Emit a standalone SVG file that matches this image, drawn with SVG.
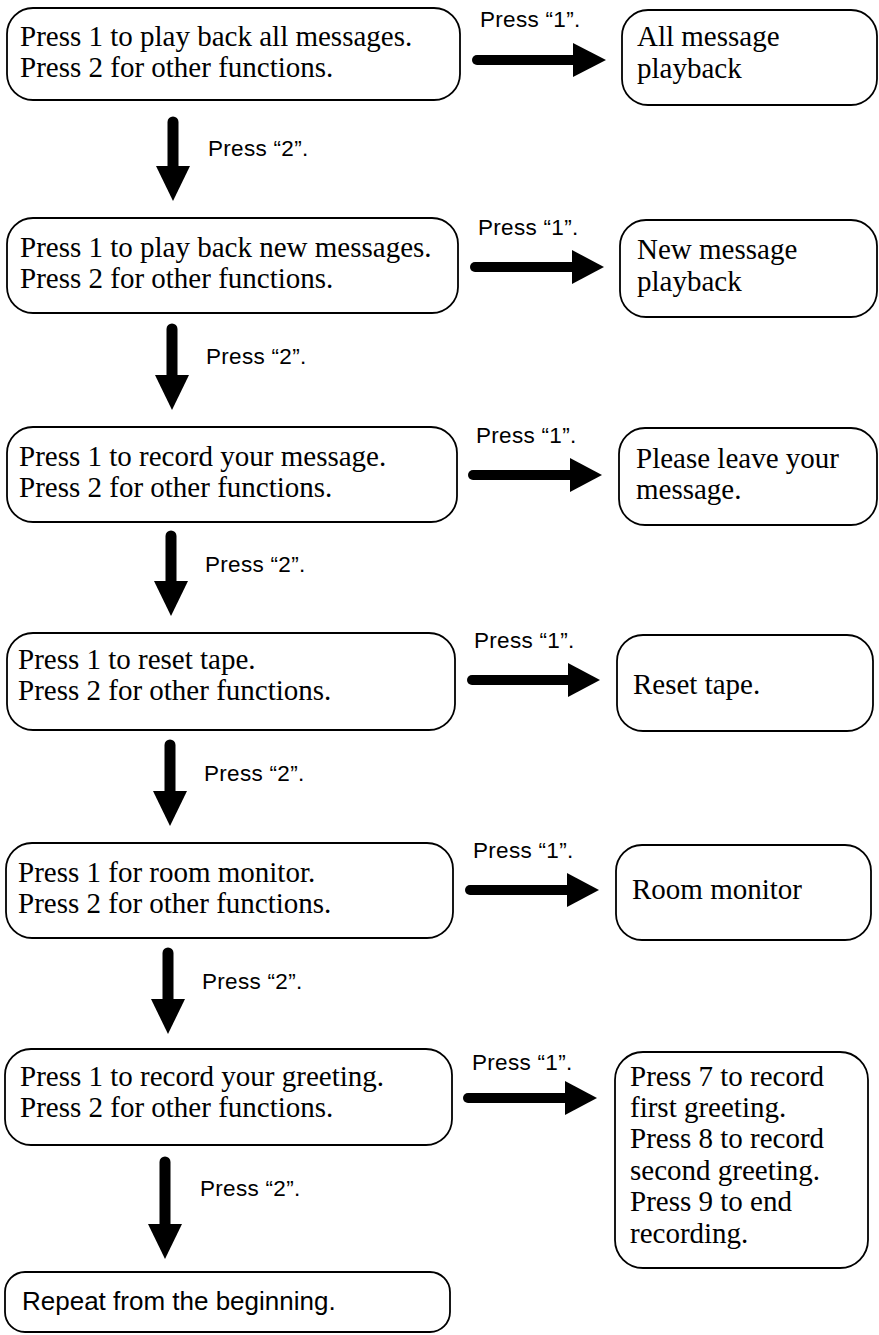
<svg xmlns="http://www.w3.org/2000/svg" width="879" height="1335" viewBox="0 0 879 1335">
<style>
.box{fill:#fff;stroke:#000;stroke-width:1.8}
.t{font-family:"Liberation Serif","Times New Roman",serif;font-size:29px;fill:#000}
.s{font-family:"Liberation Sans",Arial,sans-serif;font-size:22.5px;letter-spacing:0.3px;fill:#000}
.big{font-family:"Liberation Sans",Arial,sans-serif;font-size:26px;fill:#000}
.shaft{stroke:#000;stroke-linecap:round;fill:none}
.head{fill:#000}
</style>
<rect width="879" height="1335" fill="#fff"/>
<g id="connectors">
  <g id="right-arrows">
    <line class="shaft" stroke-width="10" x1="477" y1="60" x2="575" y2="60"/><polygon class="head" points="573,43 606,60 573,77"/>
    <line class="shaft" stroke-width="10" x1="475" y1="267" x2="574" y2="267"/><polygon class="head" points="572,250 604,267 572,284"/>
    <line class="shaft" stroke-width="10" x1="473" y1="475" x2="572" y2="475"/><polygon class="head" points="570,458 602,475 570,492"/>
    <line class="shaft" stroke-width="10" x1="472" y1="680" x2="570" y2="680"/><polygon class="head" points="568,663 600,680 568,697"/>
    <line class="shaft" stroke-width="10" x1="470" y1="890" x2="569" y2="890"/><polygon class="head" points="567,873 599,890 567,907"/>
    <line class="shaft" stroke-width="10" x1="468" y1="1098" x2="567" y2="1098"/><polygon class="head" points="565,1081 597,1098 565,1115"/>
  </g>
  <g id="down-arrows">
    <line class="shaft" stroke-width="11" x1="173" y1="122" x2="173" y2="169"/><polygon class="head" points="156,166 190,166 173,201"/>
    <line class="shaft" stroke-width="11" x1="172" y1="329" x2="172" y2="378"/><polygon class="head" points="155,375 189,375 172,410"/>
    <line class="shaft" stroke-width="11" x1="171" y1="536" x2="171" y2="584"/><polygon class="head" points="154,581 188,581 171,616"/>
    <line class="shaft" stroke-width="11" x1="170" y1="745" x2="170" y2="794"/><polygon class="head" points="153,791 187,791 170,826"/>
    <line class="shaft" stroke-width="11" x1="168" y1="953" x2="168" y2="1002"/><polygon class="head" points="151,999 185,999 168,1034"/>
    <line class="shaft" stroke-width="11" x1="165" y1="1162" x2="165" y2="1227"/><polygon class="head" points="148,1224 182,1224 165,1259"/>
  </g>
  <g id="labels">
    <text class="s" x="480" y="27">Press “1”.</text>
    <text class="s" x="478" y="235">Press “1”.</text>
    <text class="s" x="476" y="443">Press “1”.</text>
    <text class="s" x="474" y="648">Press “1”.</text>
    <text class="s" x="473" y="858">Press “1”.</text>
    <text class="s" x="472" y="1070">Press “1”.</text>
    <text class="s" x="208" y="156">Press “2”.</text>
    <text class="s" x="206" y="364">Press “2”.</text>
    <text class="s" x="205" y="572">Press “2”.</text>
    <text class="s" x="204" y="781">Press “2”.</text>
    <text class="s" x="202" y="989">Press “2”.</text>
    <text class="s" x="200" y="1196">Press “2”.</text>
  </g>
</g>
<g id="menu1"><rect class="box" x="7" y="8" width="453" height="92" rx="26"/>
  <text class="t" x="20" y="46">Press 1 to play back all messages.</text><text class="t" x="20" y="77">Press 2 for other functions.</text></g>
<g id="all-playback"><rect class="box" x="622" y="10" width="255" height="95" rx="26"/>
  <text class="t" x="637" y="46">All message</text><text class="t" x="637" y="78">playback</text></g>
<g id="menu2"><rect class="box" x="7" y="218" width="451" height="95" rx="26"/>
  <text class="t" x="20" y="257">Press 1 to play back new messages.</text><text class="t" x="20" y="288">Press 2 for other functions.</text></g>
<g id="new-playback"><rect class="box" x="620" y="220" width="257" height="97" rx="26"/>
  <text class="t" x="637" y="259">New message</text><text class="t" x="637" y="291">playback</text></g>
<g id="menu3"><rect class="box" x="7" y="427" width="450" height="95" rx="26"/>
  <text class="t" x="19" y="466">Press 1 to record your message.</text><text class="t" x="19" y="497">Press 2 for other functions.</text></g>
<g id="leave-message"><rect class="box" x="619" y="428" width="258" height="97" rx="26"/>
  <text class="t" x="636" y="468">Please leave your</text><text class="t" x="636" y="499">message.</text></g>
<g id="menu4"><rect class="box" x="7" y="633" width="448" height="97" rx="26"/>
  <text class="t" x="18" y="669">Press 1 to reset tape.</text><text class="t" x="18" y="700">Press 2 for other functions.</text></g>
<g id="reset-tape"><rect class="box" x="617" y="635" width="256" height="96" rx="26"/>
  <text class="t" x="633" y="694">Reset tape.</text></g>
<g id="menu5"><rect class="box" x="6" y="843" width="447" height="95" rx="26"/>
  <text class="t" x="18" y="882">Press 1 for room monitor.</text><text class="t" x="18" y="913">Press 2 for other functions.</text></g>
<g id="room-monitor"><rect class="box" x="616" y="845" width="255" height="95" rx="26"/>
  <text class="t" x="632" y="899">Room monitor</text></g>
<g id="menu6"><rect class="box" x="5" y="1049" width="447" height="96" rx="26"/>
  <text class="t" x="20" y="1086">Press 1 to record your greeting.</text><text class="t" x="20" y="1117">Press 2 for other functions.</text></g>
<g id="greeting"><rect class="box" x="615" y="1052" width="253" height="216" rx="28"/>
  <text class="t" x="630" y="1086">Press 7 to record</text><text class="t" x="630" y="1117">first greeting.</text>
  <text class="t" x="630" y="1148">Press 8 to record</text><text class="t" x="630" y="1180">second greeting.</text>
  <text class="t" x="630" y="1211">Press 9 to end</text><text class="t" x="630" y="1243">recording.</text></g>
<g id="repeat"><rect class="box" x="5" y="1272" width="445" height="60" rx="20"/>
  <text class="big" x="22" y="1310">Repeat from the beginning.</text></g>
</svg>
